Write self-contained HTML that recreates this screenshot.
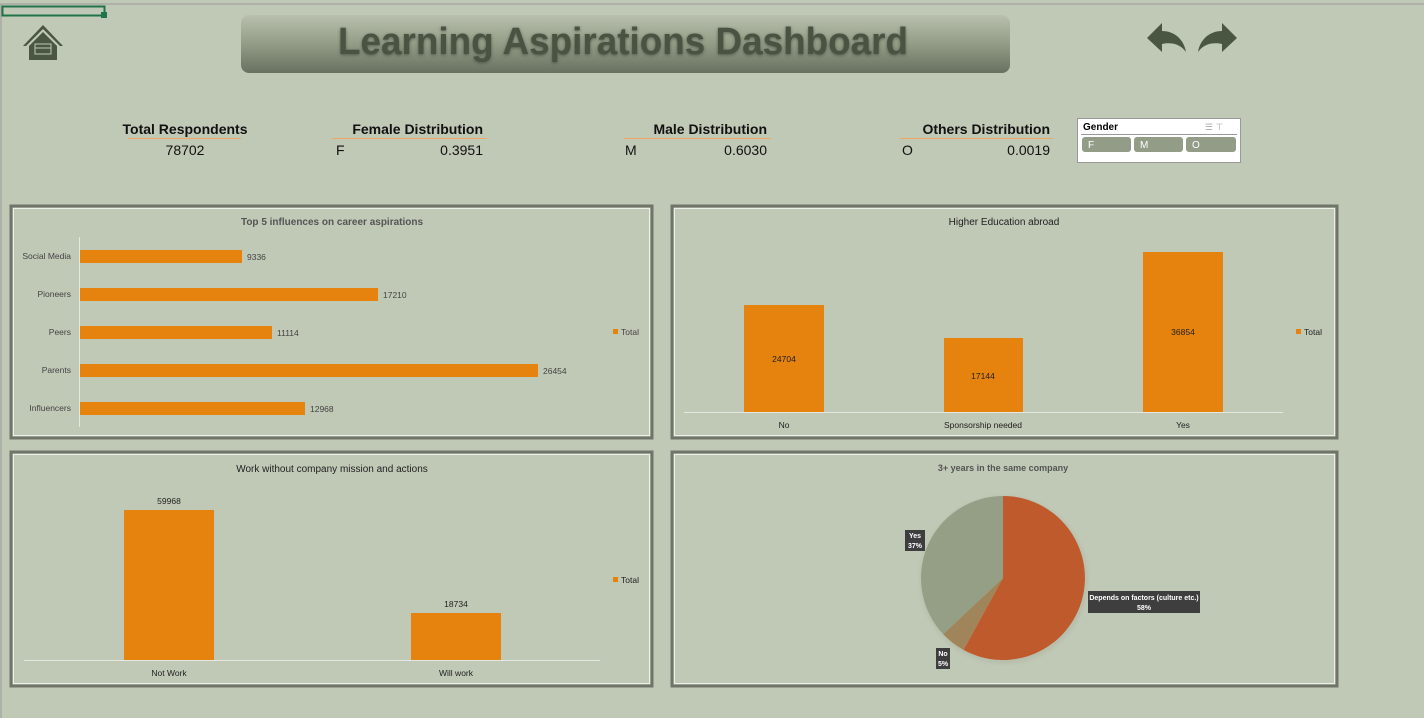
<!DOCTYPE html>
<html><head><meta charset="utf-8"><style>
html,body{margin:0;padding:0;background:#c0c8b6;}
svg{display:block;font-family:"Liberation Sans",sans-serif;}
</style></head><body>
<svg width="1424" height="718" viewBox="0 0 1424 718" xmlns="http://www.w3.org/2000/svg">
<defs>
<linearGradient id="tg" x1="0" y1="0" x2="0" y2="1">
<stop offset="0" stop-color="#b9c1ae"/><stop offset="0.5" stop-color="#939c86"/><stop offset="1" stop-color="#687160"/>
</linearGradient>
<filter id="sh" x="-5%" y="-5%" width="110%" height="115%"><feGaussianBlur stdDeviation="1.5"/></filter>
</defs>
<rect width="1424" height="718" fill="#c0c8b6"/>
<line x1="0" y1="4" x2="1424" y2="4" stroke="#9a9a9a" stroke-width="1"/>
<line x1="1" y1="4" x2="1" y2="718" stroke="#9a9a9a" stroke-width="1"/>
<rect x="2.5" y="6.5" width="102" height="9" fill="none" stroke="#21734a" stroke-width="2"/>
<rect x="101" y="12" width="6" height="6" fill="#21734a"/>
<!-- home icon -->
<g fill="#4b5642">
<path d="M23 46 L43 25 L63 46 L60 46 L43 29 L26 46Z"/>
<path d="M29 46 L43 32 L57 46 V60 H29Z"/>
</g>
<rect x="35" y="44" width="16" height="10" fill="none" stroke="#c0c8b6" stroke-width="1"/>
<line x1="35" y1="48" x2="51" y2="48" stroke="#c0c8b6" stroke-width="1"/>
<!-- title -->
<rect x="241" y="15" width="769" height="58" rx="8" fill="url(#tg)"/>
<text x="338" y="55" font-size="38" font-weight="bold" fill="#2f362a" opacity="0.6" textLength="570" lengthAdjust="spacingAndGlyphs" filter="url(#sh)">Learning Aspirations Dashboard</text>
<text x="338" y="54" font-size="38" font-weight="bold" fill="#4a5341" textLength="570" lengthAdjust="spacingAndGlyphs">Learning Aspirations Dashboard</text>
<!-- arrows -->
<path d="M1147 38 L1162 23 L1162 31 C1175 31 1184 40 1186 52 C1180 44 1172 42 1162 44 L1162 52Z" fill="#4b5642"/>
<path d="M1237 38 L1222 23 L1222 31 C1209 31 1200 40 1198 52 C1204 44 1212 42 1222 44 L1222 52Z" fill="#4b5642"/>
<!-- KPIs -->
<g font-size="14" fill="#111">
<text x="185" y="134" text-anchor="middle" font-weight="bold">Total Respondents</text>
<line x1="128" y1="138.5" x2="241" y2="138.5" stroke="#f0a860"/>
<text x="185" y="155" text-anchor="middle">78702</text>
<text x="483" y="134" text-anchor="end" font-weight="bold">Female Distribution</text>
<line x1="332" y1="138.5" x2="487" y2="138.5" stroke="#f0a860"/>
<text x="336" y="155">F</text><text x="483" y="155" text-anchor="end">0.3951</text>
<text x="767" y="134" text-anchor="end" font-weight="bold">Male Distribution</text>
<line x1="624" y1="138.5" x2="771" y2="138.5" stroke="#f0a860"/>
<text x="625" y="155">M</text><text x="767" y="155" text-anchor="end">0.6030</text>
<text x="1050" y="134" text-anchor="end" font-weight="bold">Others Distribution</text>
<line x1="900" y1="138.5" x2="1053" y2="138.5" stroke="#f0a860"/>
<text x="902" y="155">O</text><text x="1050" y="155" text-anchor="end">0.0019</text>
</g>
<!-- slicer -->
<rect x="1077.5" y="118.5" width="163" height="44" fill="#fff" stroke="#999"/>
<text x="1083" y="130" font-size="10" font-weight="bold">Gender</text>
<line x1="1081" y1="134.5" x2="1237" y2="134.5" stroke="#999"/>
<text x="1205" y="130" font-size="9" fill="#aaa">☰ ⊤</text>
<g font-size="10" fill="#fff">
<rect x="1082" y="137" width="49" height="15" rx="3" fill="#939c86"/><text x="1088" y="148">F</text>
<rect x="1134" y="137" width="49" height="15" rx="3" fill="#939c86"/><text x="1140" y="148">M</text>
<rect x="1186" y="137" width="50" height="15" rx="3" fill="#939c86"/><text x="1192" y="148">O</text>
</g>
<!-- panels -->
<g fill="none">
<rect x="11" y="206" width="641" height="232" stroke="#6f7669" stroke-width="3"/>
<rect x="13.5" y="208.5" width="636" height="227" stroke="#eef0ea" stroke-width="1"/>
<rect x="672" y="206" width="665" height="232" stroke="#6f7669" stroke-width="3"/>
<rect x="674.5" y="208.5" width="660" height="227" stroke="#eef0ea" stroke-width="1"/>
<rect x="11" y="452" width="641" height="234" stroke="#6f7669" stroke-width="3"/>
<rect x="13.5" y="454.5" width="636" height="229" stroke="#eef0ea" stroke-width="1"/>
<rect x="672" y="452" width="665" height="234" stroke="#6f7669" stroke-width="3"/>
<rect x="674.5" y="454.5" width="660" height="229" stroke="#eef0ea" stroke-width="1"/>
</g>
<!-- chart1 -->
<text x="332" y="225" font-size="10" font-weight="bold" fill="#555" text-anchor="middle">Top 5 influences on career aspirations</text>
<line x1="79.5" y1="237" x2="79.5" y2="427" stroke="#e6e8e0"/>
<g fill="#e6820e">
<rect x="80" y="250" width="162" height="13"/>
<rect x="80" y="288" width="298" height="13"/>
<rect x="80" y="326" width="192" height="13"/>
<rect x="80" y="364" width="458" height="13"/>
<rect x="80" y="402" width="225" height="13"/>
</g>
<g font-size="8.5" fill="#444">
<text x="71" y="259" text-anchor="end">Social Media</text>
<text x="71" y="297" text-anchor="end">Pioneers</text>
<text x="71" y="335" text-anchor="end">Peers</text>
<text x="71" y="373" text-anchor="end">Parents</text>
<text x="71" y="411" text-anchor="end">Influencers</text>
<text x="247" y="260">9336</text><text x="383" y="298">17210</text><text x="277" y="336">11114</text><text x="543" y="374">26454</text><text x="310" y="412">12968</text>
<rect x="613" y="329" width="5" height="5" fill="#e6820e"/><text x="621" y="335">Total</text>
</g>
<!-- chart2 -->
<text x="1004" y="225" font-size="10" fill="#222" text-anchor="middle">Higher Education abroad</text>
<g fill="#e6820e">
<rect x="744" y="305" width="80" height="107"/>
<rect x="944" y="338" width="79" height="74"/>
<rect x="1143" y="252" width="80" height="160"/>
</g>
<line x1="684" y1="412.5" x2="1283" y2="412.5" stroke="#e6e8e0"/>
<g font-size="8.5" fill="#222" text-anchor="middle">
<text x="784" y="362">24704</text><text x="983" y="379">17144</text><text x="1183" y="335">36854</text>
<text x="784" y="428">No</text><text x="983" y="428">Sponsorship needed</text><text x="1183" y="428">Yes</text>
</g>
<rect x="1296" y="329" width="5" height="5" fill="#e6820e"/><text x="1304" y="335" font-size="8.5" fill="#222">Total</text>
<!-- chart3 -->
<text x="332" y="472" font-size="10" fill="#222" text-anchor="middle">Work without company mission and actions</text>
<g fill="#e6820e">
<rect x="124" y="510" width="90" height="150"/>
<rect x="411" y="613" width="90" height="47"/>
</g>
<line x1="24" y1="660.5" x2="600" y2="660.5" stroke="#e6e8e0"/>
<g font-size="8.5" fill="#222" text-anchor="middle">
<text x="169" y="504">59968</text><text x="456" y="607">18734</text>
<text x="169" y="676">Not Work</text><text x="456" y="676">Will work</text>
</g>
<rect x="613" y="577" width="5" height="5" fill="#e6820e"/><text x="621" y="583" font-size="8.5" fill="#222">Total</text>
<!-- chart4 pie -->
<text x="1003" y="471" font-size="9" font-weight="bold" fill="#555" text-anchor="middle">3+ years in the same company</text>
<circle cx="1004" cy="580" r="84" fill="#aab19e" opacity="0.4" filter="url(#sh)"/>
<path d="M1003 578 L1003 496 A82 82 0 1 1 963.5 649.9Z" fill="#bf5a2c"/>
<path d="M1003 578 L963.5 649.9 A82 82 0 0 1 943.2 634.1Z" fill="#a0855a"/>
<path d="M1003 578 L943.2 634.1 A82 82 0 0 1 1003 496Z" fill="#949f86"/>
<g font-size="7" font-weight="bold" fill="#fff" text-anchor="middle">
<rect x="905" y="530" width="20" height="21" fill="#3e3e3e"/><text x="915" y="538">Yes</text><text x="915" y="548">37%</text>
<rect x="1088" y="591" width="112" height="22" fill="#3e3e3e"/><text x="1144" y="600">Depends on factors (culture etc.)</text><text x="1144" y="610">58%</text>
<rect x="936" y="648" width="14" height="21" fill="#3e3e3e"/><text x="943" y="656">No</text><text x="943" y="666">5%</text>
</g>
</svg>
</body></html>
